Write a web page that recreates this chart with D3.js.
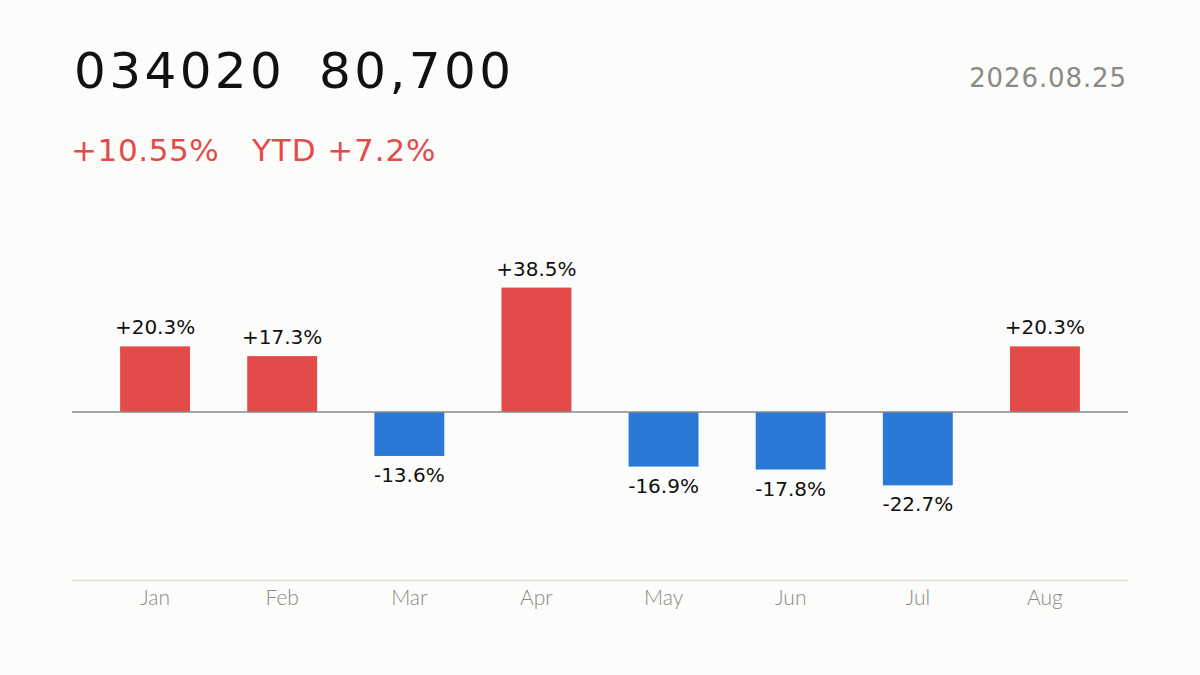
<!DOCTYPE html>
<html><head><meta charset="utf-8">
<script src="https://cdn.jsdelivr.net/npm/d3@7"></script>
<style>
html,body{margin:0;padding:0;background:#fcfcfa;}
svg{display:block;}
</style></head>
<body>
<svg id="chart" width="1200" height="675"></svg>
<script>
const months = ["Jan","Feb","Mar","Apr","May","Jun","Jul","Aug"];
const changes = [20.3, 17.3, -13.6, 38.5, -16.9, -17.8, -22.7, 20.3];
const ticker = "034020";
const price = "80,700";
const dayChange = "+10.55%";
const ytd = "YTD +7.2%";
const dateLabel = "2026.08.25";

const W = 1200, H = 675;
const svg = d3.select("#chart");
const font = "'DejaVu Sans', Verdana, sans-serif";

svg.append("rect").attr("width", W).attr("height", H).attr("fill", "#fcfcfa");

svg.append("text").attr("x", 74).attr("y", 88).attr("font-family", font)
  .attr("font-size", 50).attr("letter-spacing", 3.4).attr("fill", "#111").text(ticker);
svg.append("text").attr("x", 319).attr("y", 88).attr("font-family", font)
  .attr("font-size", 50).attr("letter-spacing", 3.4).attr("fill", "#111").text(price);
svg.append("text").attr("x", 1127).attr("y", 87).attr("text-anchor", "end").attr("font-family", font)
  .attr("font-size", 26).attr("letter-spacing", 0.9).attr("fill", "#8a8a86").text(dateLabel);
svg.append("text").attr("x", 71).attr("y", 161).attr("font-family", font)
  .attr("font-size", 31).attr("letter-spacing", 0.6).attr("fill", "#e34a4a").text(dayChange);
svg.append("text").attr("x", 252).attr("y", 161).attr("font-family", font)
  .attr("font-size", 31).attr("letter-spacing", 0.9).attr("fill", "#e34a4a").text(ytd);

const x = d3.scaleBand().domain(months).range([91.5, 1108.5]).paddingInner(0.45).paddingOuter(0.225);
const y = d3.scaleLinear().domain([-52.3, 52.3]).range([581, 243]);

svg.append("line").attr("x1", 72).attr("x2", 1128).attr("y1", 580.5).attr("y2", 580.5)
  .attr("stroke", "#e0e0da").attr("stroke-width", 1.5);

svg.selectAll("rect.bar").data(changes).join("rect").attr("class", "bar")
  .attr("x", (d, i) => x(months[i]))
  .attr("width", x.bandwidth())
  .attr("y", d => y(Math.max(0, d)))
  .attr("height", d => Math.abs(y(d) - y(0)))
  .attr("fill", d => d >= 0 ? "#e34a4a" : "#2a79d6");

svg.append("line").attr("x1", 72).attr("x2", 1128).attr("y1", y(0)).attr("y2", y(0))
  .attr("stroke", "#888", ).attr("stroke-width", 1.5);

svg.selectAll("text.val").data(changes).join("text").attr("class", "val")
  .attr("x", (d, i) => x(months[i]) + x.bandwidth() / 2)
  .attr("y", d => d >= 0 ? y(d) - 12 : y(d) + 26)
  .attr("text-anchor", "middle").attr("font-family", font).attr("font-size", 20).attr("fill", "#111")
  .text(d => (d > 0 ? "+" : "") + d.toFixed(1) + "%");

const xAxis = svg.append("g").attr("transform", "translate(0,580)")
  .call(d3.axisBottom(x).tickSize(0).tickPadding(10));
xAxis.select(".domain").remove();
xAxis.selectAll("text").attr("font-family", "Lato, sans-serif").attr("font-weight", 300)
  .attr("font-size", 21).attr("fill", "#8a8a86");
</script>
</body></html>
